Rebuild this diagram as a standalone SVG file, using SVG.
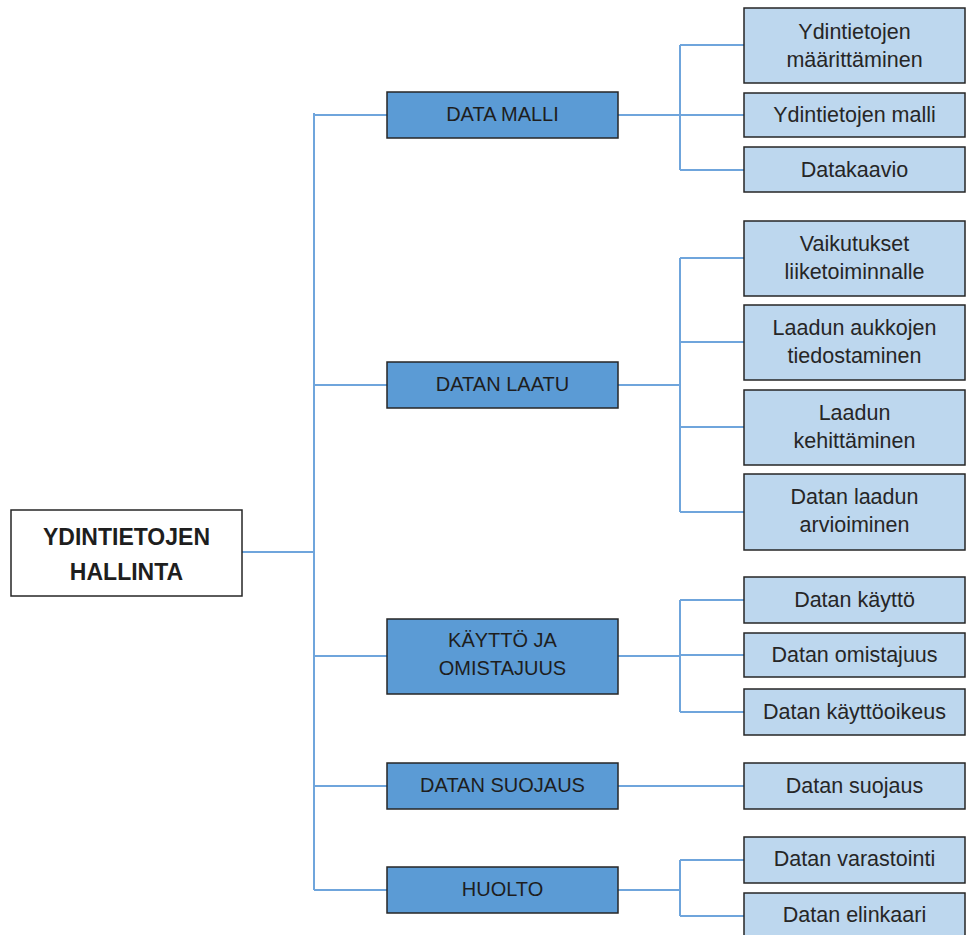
<svg xmlns="http://www.w3.org/2000/svg" width="966" height="935" viewBox="0 0 966 935">
  <style>
    .root rect { fill: #ffffff; stroke: #262626; stroke-width: 1.5; }
    .mid rect { fill: #5b9bd5; stroke: #262626; stroke-width: 1.5; }
    .leaf rect { fill: #bdd7ee; stroke: #262626; stroke-width: 1.5; }
    text { font-family: "Liberation Sans", Arial, sans-serif; fill: #1e1e1e; text-anchor: middle; }
    .root text { font-size: 23px; font-weight: bold; }
    .mid text { font-size: 20px; }
    .leaf text { font-size: 21.5px; fill: #262626; }
    .conn { fill: none; stroke: #6fa5dc; stroke-width: 2; }
  </style>
  <rect width="966" height="935" fill="#ffffff"/>

  <!-- connectors -->
  <g id="connectors" class="conn">
    <!-- root to trunk -->
    <path d="M242 552 H314 M314 113 V890"/>
    <path d="M314 115 H387 M314 385 H387 M314 656 H387 M314 786 H387 M314 890 H387"/>
    <!-- DATA MALLI -->
    <path d="M618 115 H680 M680 45 V170 M680 45 H744 M680 115 H744 M680 170 H744"/>
    <!-- DATAN LAATU -->
    <path d="M618 385 H680 M680 258 V512 M680 258 H744 M680 342 H744 M680 427 H744 M680 512 H744"/>
    <!-- KAYTTO JA OMISTAJUUS -->
    <path d="M618 656 H680 M680 600 V712 M680 600 H744 M680 655 H744 M680 712 H744"/>
    <!-- DATAN SUOJAUS -->
    <path d="M618 786 H744"/>
    <!-- HUOLTO -->
    <path d="M618 890 H680 M680 860 V916 M680 860 H744 M680 916 H744"/>
  </g>

  <!-- root -->
  <g id="root" class="root">
    <rect x="11" y="510" width="231" height="86"/>
    <text x="126.5" y="545">YDINTIETOJEN</text>
    <text x="126.5" y="580">HALLINTA</text>
  </g>

  <!-- second level -->
  <g id="data-malli" class="mid">
    <rect x="387" y="92" width="231" height="46"/>
    <text x="502.5" y="121">DATA MALLI</text>
  </g>
  <g id="datan-laatu" class="mid">
    <rect x="387" y="362" width="231" height="46"/>
    <text x="502.5" y="391">DATAN LAATU</text>
  </g>
  <g id="kaytto-ja-omistajuus" class="mid">
    <rect x="387" y="619" width="231" height="75"/>
    <text x="502.5" y="647">KÄYTTÖ JA</text>
    <text x="502.5" y="675">OMISTAJUUS</text>
  </g>
  <g id="datan-suojaus" class="mid">
    <rect x="387" y="763" width="231" height="46"/>
    <text x="502.5" y="792">DATAN SUOJAUS</text>
  </g>
  <g id="huolto" class="mid">
    <rect x="387" y="867" width="231" height="46"/>
    <text x="502.5" y="896">HUOLTO</text>
  </g>

  <!-- leaves -->
  <g id="ydintietojen-maarittaminen" class="leaf">
    <rect x="744" y="8" width="221" height="75"/>
    <text x="854.5" y="39">Ydintietojen</text>
    <text x="854.5" y="67">määrittäminen</text>
  </g>
  <g id="ydintietojen-malli" class="leaf">
    <rect x="744" y="93" width="221" height="44"/>
    <text x="854.5" y="122">Ydintietojen malli</text>
  </g>
  <g id="datakaavio" class="leaf">
    <rect x="744" y="147" width="221" height="45"/>
    <text x="854.5" y="177">Datakaavio</text>
  </g>
  <g id="vaikutukset" class="leaf">
    <rect x="744" y="221" width="221" height="75"/>
    <text x="854.5" y="251">Vaikutukset</text>
    <text x="854.5" y="279">liiketoiminnalle</text>
  </g>
  <g id="laadun-aukkojen" class="leaf">
    <rect x="744" y="305" width="221" height="75"/>
    <text x="854.5" y="335">Laadun aukkojen</text>
    <text x="854.5" y="363">tiedostaminen</text>
  </g>
  <g id="laadun-kehittaminen" class="leaf">
    <rect x="744" y="390" width="221" height="75"/>
    <text x="854.5" y="420">Laadun</text>
    <text x="854.5" y="448">kehittäminen</text>
  </g>
  <g id="datan-laadun-arvioiminen" class="leaf">
    <rect x="744" y="474" width="221" height="76"/>
    <text x="854.5" y="504">Datan laadun</text>
    <text x="854.5" y="532">arvioiminen</text>
  </g>
  <g id="datan-kaytto" class="leaf">
    <rect x="744" y="577" width="221" height="46"/>
    <text x="854.5" y="607">Datan käyttö</text>
  </g>
  <g id="datan-omistajuus" class="leaf">
    <rect x="744" y="633" width="221" height="44"/>
    <text x="854.5" y="662">Datan omistajuus</text>
  </g>
  <g id="datan-kayttooikeus" class="leaf">
    <rect x="744" y="689" width="221" height="46"/>
    <text x="854.5" y="719">Datan käyttöoikeus</text>
  </g>
  <g id="datan-suojaus-leaf" class="leaf">
    <rect x="744" y="763" width="221" height="46"/>
    <text x="854.5" y="793">Datan suojaus</text>
  </g>
  <g id="datan-varastointi" class="leaf">
    <rect x="744" y="837" width="221" height="46"/>
    <text x="854.5" y="866">Datan varastointi</text>
  </g>
  <g id="datan-elinkaari" class="leaf">
    <rect x="744" y="893" width="221" height="50"/>
    <text x="854.5" y="922">Datan elinkaari</text>
  </g>
</svg>
